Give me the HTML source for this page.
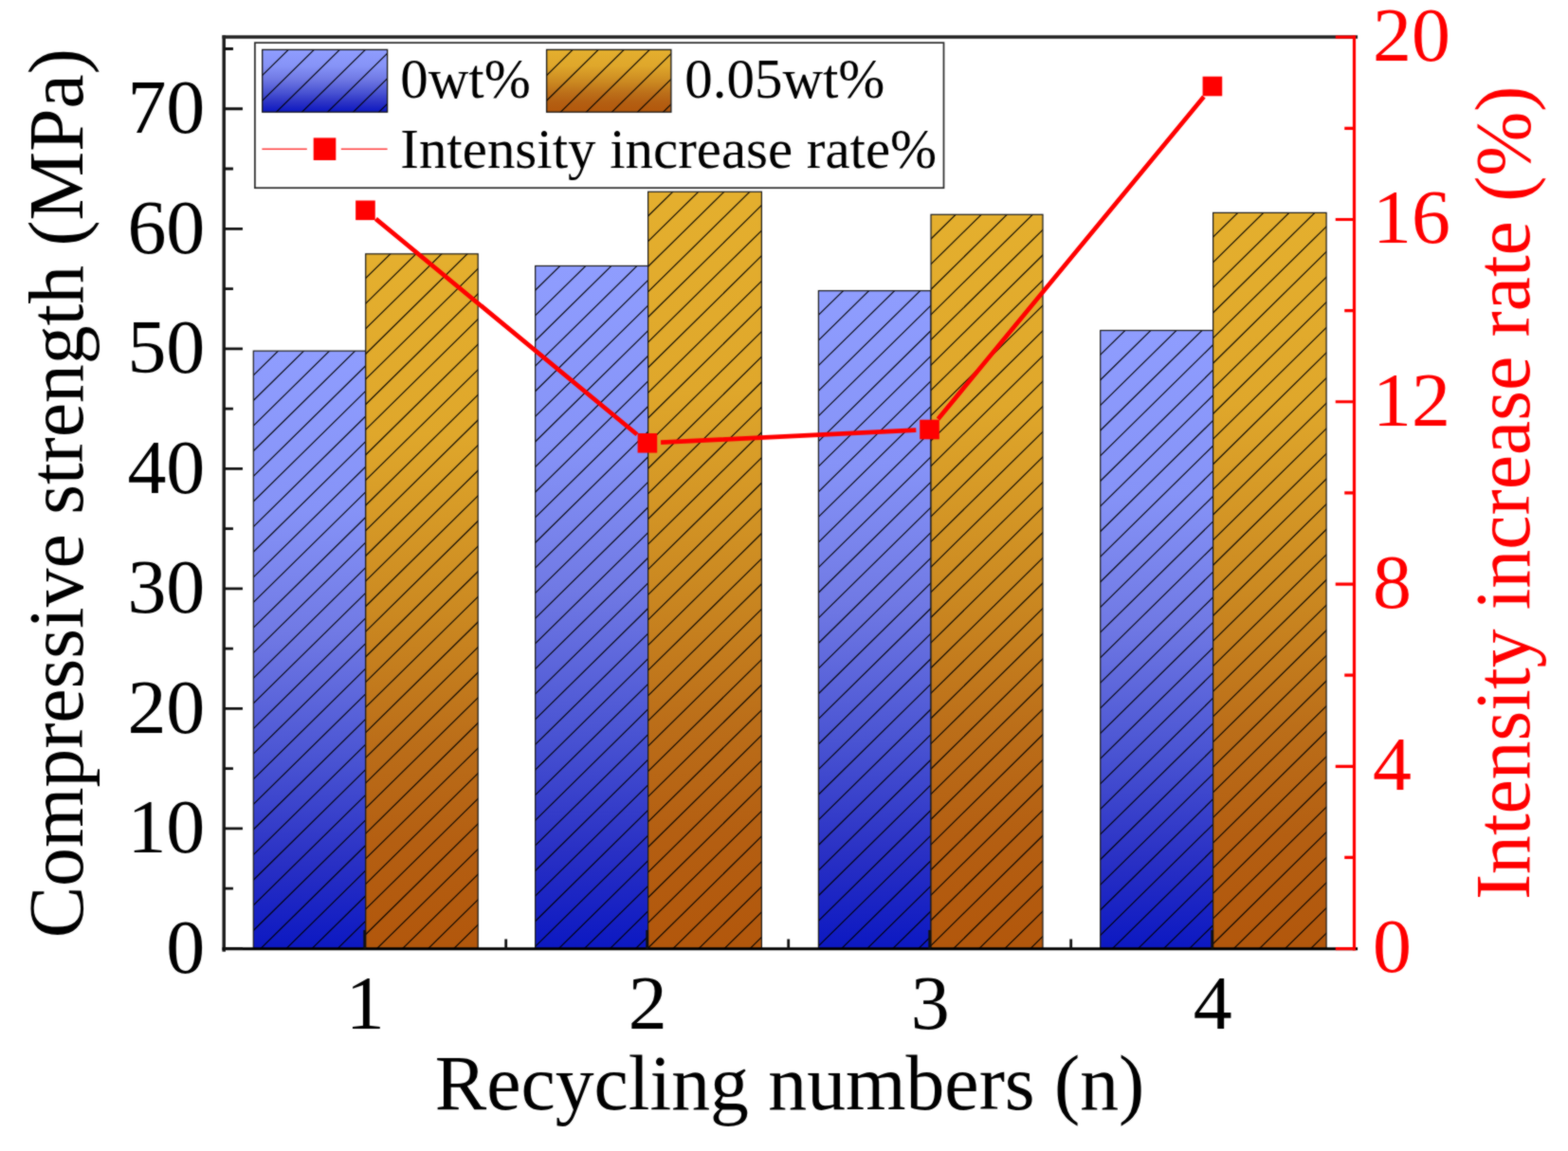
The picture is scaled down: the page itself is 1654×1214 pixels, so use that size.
<!DOCTYPE html>
<html lang="en"><head><meta charset="utf-8"><title>Compressive strength vs recycling numbers</title>
<style>
html,body{margin:0;padding:0;background:#fff;}
body{width:1654px;height:1214px;overflow:hidden;}
svg{display:block;}
text{font-family:"Liberation Serif",serif;}
</style></head><body>
<svg width="1654" height="1214" viewBox="0 0 1654 1214">
<defs>
<filter id="soft" filterUnits="userSpaceOnUse" x="0" y="0" width="1654" height="1214" color-interpolation-filters="sRGB"><feConvolveMatrix order="3" kernelMatrix="0.05 0.075 0.05 0.075 0.5 0.075 0.05 0.075 0.05" divisor="1" edgeMode="duplicate" preserveAlpha="true"/></filter>
<linearGradient id="gb" x1="0" y1="0" x2="0" y2="1"><stop offset="0" stop-color="#8f9dfe"/><stop offset="0.263" stop-color="#8693f7"/><stop offset="0.474" stop-color="#7079e4"/><stop offset="0.687" stop-color="#4953d2"/><stop offset="0.857" stop-color="#2930c4"/><stop offset="1" stop-color="#0c18c2"/></linearGradient>
<linearGradient id="gg" x1="0" y1="0" x2="0" y2="1"><stop offset="0" stop-color="#e4af2e"/><stop offset="0.26" stop-color="#dfa72b"/><stop offset="0.515" stop-color="#cb8921"/><stop offset="0.7" stop-color="#bb6e19"/><stop offset="0.845" stop-color="#b45f12"/><stop offset="1" stop-color="#b2570c"/></linearGradient>
</defs>
<g id="chart" filter="url(#soft)">
<rect x="0" y="0" width="1654" height="1214" fill="#fff"/>
<g id="bars">
<clipPath id="c1"><rect x="267.30" y="370.15" width="118.40" height="630.45"/></clipPath>
<rect x="267.30" y="370.15" width="118.40" height="630.45" fill="url(#gb)"/>
<path d="M264.30 398.78L296.41 367.20M264.30 425.40L323.46 367.20M264.30 452.02L350.51 367.20M264.30 478.64L377.56 367.20M264.30 505.26L404.61 367.20M264.30 531.88L431.66 367.20M264.30 558.50L458.71 367.20M264.30 585.12L485.76 367.20M264.30 611.74L512.81 367.20M264.30 638.36L539.86 367.20M264.30 664.98L566.91 367.20M264.30 691.60L593.96 367.20M264.30 718.22L621.01 367.20M264.30 744.84L648.06 367.20M264.30 771.46L675.11 367.20M264.30 798.08L702.16 367.20M264.30 824.70L729.21 367.20M264.30 851.32L756.26 367.20M264.30 877.94L783.31 367.20M264.30 904.56L810.36 367.20M264.30 931.18L837.41 367.20M264.30 957.80L864.46 367.20M264.30 984.42L891.51 367.20M264.30 1011.04L918.56 367.20M264.30 1037.66L945.61 367.20M264.30 1064.28L972.66 367.20M264.30 1090.90L999.71 367.20M264.30 1117.52L1026.76 367.20" stroke="#000" stroke-opacity="0.85" stroke-width="1.3" fill="none" clip-path="url(#c1)"/>
<rect x="267.30" y="370.15" width="118.40" height="630.45" fill="none" stroke="#1a1a1a" stroke-width="1.20"/>
<clipPath id="c2"><rect x="385.70" y="267.80" width="118.50" height="732.80"/></clipPath>
<rect x="385.70" y="267.80" width="118.50" height="732.80" fill="url(#gg)"/>
<path d="M382.70 296.43L414.81 264.85M382.70 323.05L441.86 264.84M382.70 349.67L468.91 264.84M382.70 376.29L495.96 264.84M382.70 402.91L523.01 264.84M382.70 429.53L550.06 264.84M382.70 456.15L577.11 264.84M382.70 482.77L604.16 264.84M382.70 509.39L631.21 264.84M382.70 536.01L658.26 264.84M382.70 562.63L685.31 264.84M382.70 589.25L712.36 264.84M382.70 615.87L739.41 264.84M382.70 642.49L766.46 264.84M382.70 669.11L793.51 264.84M382.70 695.73L820.56 264.84M382.70 722.35L847.61 264.84M382.70 748.97L874.66 264.84M382.70 775.59L901.71 264.84M382.70 802.21L928.76 264.84M382.70 828.83L955.81 264.84M382.70 855.45L982.86 264.84M382.70 882.07L1009.91 264.84M382.70 908.69L1036.96 264.84M382.70 935.31L1064.01 264.84M382.70 961.93L1091.06 264.84M382.70 988.55L1118.11 264.84M382.70 1015.17L1145.16 264.84M382.70 1041.79L1172.21 264.84M382.70 1068.41L1199.26 264.84M382.70 1095.03L1226.31 264.84M382.70 1121.65L1253.36 264.84" stroke="#000" stroke-opacity="0.85" stroke-width="1.3" fill="none" clip-path="url(#c2)"/>
<rect x="385.70" y="267.80" width="118.50" height="732.80" fill="none" stroke="#1a1a1a" stroke-width="1.20"/>
<clipPath id="c3"><rect x="564.65" y="280.45" width="118.95" height="720.15"/></clipPath>
<rect x="564.65" y="280.45" width="118.95" height="720.15" fill="url(#gb)"/>
<path d="M561.65 309.08L593.76 277.50M561.65 335.70L620.81 277.50M561.65 362.32L647.86 277.50M561.65 388.94L674.91 277.50M561.65 415.56L701.96 277.50M561.65 442.18L729.01 277.50M561.65 468.80L756.06 277.50M561.65 495.42L783.11 277.50M561.65 522.04L810.16 277.50M561.65 548.66L837.21 277.50M561.65 575.28L864.26 277.50M561.65 601.90L891.31 277.50M561.65 628.52L918.36 277.50M561.65 655.14L945.41 277.50M561.65 681.76L972.46 277.50M561.65 708.38L999.51 277.50M561.65 735.00L1026.56 277.50M561.65 761.62L1053.61 277.50M561.65 788.24L1080.66 277.50M561.65 814.86L1107.71 277.50M561.65 841.48L1134.76 277.50M561.65 868.10L1161.81 277.50M561.65 894.72L1188.86 277.50M561.65 921.34L1215.91 277.50M561.65 947.96L1242.96 277.50M561.65 974.58L1270.01 277.50M561.65 1001.20L1297.06 277.50M561.65 1027.82L1324.11 277.50M561.65 1054.44L1351.16 277.50M561.65 1081.06L1378.21 277.50M561.65 1107.68L1405.26 277.50" stroke="#000" stroke-opacity="0.85" stroke-width="1.3" fill="none" clip-path="url(#c3)"/>
<rect x="564.65" y="280.45" width="118.95" height="720.15" fill="none" stroke="#1a1a1a" stroke-width="1.20"/>
<clipPath id="c4"><rect x="683.60" y="202.26" width="119.80" height="798.34"/></clipPath>
<rect x="683.60" y="202.26" width="119.80" height="798.34" fill="url(#gg)"/>
<path d="M680.60 230.89L712.71 199.31M680.60 257.51L739.76 199.31M680.60 284.13L766.81 199.31M680.60 310.75L793.86 199.31M680.60 337.37L820.91 199.31M680.60 363.99L847.96 199.31M680.60 390.61L875.01 199.31M680.60 417.23L902.06 199.31M680.60 443.85L929.11 199.31M680.60 470.47L956.16 199.31M680.60 497.09L983.21 199.31M680.60 523.71L1010.26 199.31M680.60 550.33L1037.31 199.31M680.60 576.95L1064.36 199.31M680.60 603.57L1091.41 199.31M680.60 630.19L1118.46 199.31M680.60 656.81L1145.51 199.31M680.60 683.43L1172.56 199.31M680.60 710.05L1199.61 199.31M680.60 736.67L1226.66 199.31M680.60 763.29L1253.71 199.31M680.60 789.91L1280.76 199.31M680.60 816.53L1307.81 199.31M680.60 843.15L1334.86 199.31M680.60 869.77L1361.91 199.31M680.60 896.39L1388.96 199.31M680.60 923.01L1416.01 199.31M680.60 949.63L1443.06 199.31M680.60 976.25L1470.11 199.31M680.60 1002.87L1497.16 199.31M680.60 1029.49L1524.21 199.31M680.60 1056.11L1551.26 199.31M680.60 1082.73L1578.31 199.31M680.60 1109.35L1605.36 199.31" stroke="#000" stroke-opacity="0.85" stroke-width="1.3" fill="none" clip-path="url(#c4)"/>
<rect x="683.60" y="202.26" width="119.80" height="798.34" fill="none" stroke="#1a1a1a" stroke-width="1.20"/>
<clipPath id="c5"><rect x="863.40" y="306.64" width="118.60" height="693.96"/></clipPath>
<rect x="863.40" y="306.64" width="118.60" height="693.96" fill="url(#gb)"/>
<path d="M860.40 335.27L892.51 303.69M860.40 361.89L919.56 303.69M860.40 388.51L946.61 303.69M860.40 415.13L973.66 303.69M860.40 441.75L1000.71 303.69M860.40 468.37L1027.76 303.69M860.40 494.99L1054.81 303.69M860.40 521.61L1081.86 303.69M860.40 548.23L1108.91 303.69M860.40 574.85L1135.96 303.69M860.40 601.47L1163.01 303.69M860.40 628.09L1190.06 303.69M860.40 654.71L1217.11 303.69M860.40 681.33L1244.16 303.69M860.40 707.95L1271.21 303.69M860.40 734.57L1298.26 303.69M860.40 761.19L1325.31 303.69M860.40 787.81L1352.36 303.69M860.40 814.43L1379.41 303.69M860.40 841.05L1406.46 303.69M860.40 867.67L1433.51 303.69M860.40 894.29L1460.56 303.69M860.40 920.91L1487.61 303.69M860.40 947.53L1514.66 303.69M860.40 974.15L1541.71 303.69M860.40 1000.77L1568.76 303.69M860.40 1027.39L1595.81 303.69M860.40 1054.01L1622.86 303.69M860.40 1080.63L1649.91 303.69M860.40 1107.25L1676.96 303.69" stroke="#000" stroke-opacity="0.85" stroke-width="1.3" fill="none" clip-path="url(#c5)"/>
<rect x="863.40" y="306.64" width="118.60" height="693.96" fill="none" stroke="#1a1a1a" stroke-width="1.20"/>
<clipPath id="c6"><rect x="982.00" y="226.30" width="118.00" height="774.30"/></clipPath>
<rect x="982.00" y="226.30" width="118.00" height="774.30" fill="url(#gg)"/>
<path d="M979.00 254.93L1011.11 223.35M979.00 281.55L1038.16 223.35M979.00 308.17L1065.21 223.35M979.00 334.79L1092.26 223.35M979.00 361.41L1119.31 223.35M979.00 388.03L1146.36 223.35M979.00 414.65L1173.41 223.35M979.00 441.27L1200.46 223.35M979.00 467.89L1227.51 223.35M979.00 494.51L1254.56 223.35M979.00 521.13L1281.61 223.35M979.00 547.75L1308.66 223.35M979.00 574.37L1335.71 223.35M979.00 600.99L1362.76 223.35M979.00 627.61L1389.81 223.35M979.00 654.23L1416.86 223.35M979.00 680.85L1443.91 223.35M979.00 707.47L1470.96 223.35M979.00 734.09L1498.01 223.35M979.00 760.71L1525.06 223.35M979.00 787.33L1552.11 223.35M979.00 813.95L1579.16 223.35M979.00 840.57L1606.21 223.35M979.00 867.19L1633.26 223.35M979.00 893.81L1660.31 223.35M979.00 920.43L1687.36 223.35M979.00 947.05L1714.41 223.35M979.00 973.67L1741.46 223.35M979.00 1000.29L1768.51 223.35M979.00 1026.91L1795.56 223.35M979.00 1053.53L1822.61 223.35M979.00 1080.15L1849.66 223.35M979.00 1106.77L1876.71 223.35" stroke="#000" stroke-opacity="0.85" stroke-width="1.3" fill="none" clip-path="url(#c6)"/>
<rect x="982.00" y="226.30" width="118.00" height="774.30" fill="none" stroke="#1a1a1a" stroke-width="1.20"/>
<clipPath id="c7"><rect x="1160.70" y="348.52" width="118.90" height="652.08"/></clipPath>
<rect x="1160.70" y="348.52" width="118.90" height="652.08" fill="url(#gb)"/>
<path d="M1157.70 377.15L1189.81 345.57M1157.70 403.77L1216.86 345.56M1157.70 430.39L1243.91 345.56M1157.70 457.01L1270.96 345.56M1157.70 483.63L1298.01 345.56M1157.70 510.25L1325.06 345.56M1157.70 536.87L1352.11 345.56M1157.70 563.49L1379.16 345.56M1157.70 590.11L1406.21 345.56M1157.70 616.73L1433.26 345.56M1157.70 643.35L1460.31 345.56M1157.70 669.97L1487.36 345.56M1157.70 696.59L1514.41 345.56M1157.70 723.21L1541.46 345.56M1157.70 749.83L1568.51 345.56M1157.70 776.45L1595.56 345.56M1157.70 803.07L1622.61 345.56M1157.70 829.69L1649.66 345.56M1157.70 856.31L1676.71 345.56M1157.70 882.93L1703.76 345.56M1157.70 909.55L1730.81 345.56M1157.70 936.17L1757.86 345.56M1157.70 962.79L1784.91 345.56M1157.70 989.41L1811.96 345.56M1157.70 1016.03L1839.01 345.56M1157.70 1042.65L1866.06 345.56M1157.70 1069.27L1893.11 345.56M1157.70 1095.89L1920.16 345.56M1157.70 1122.51L1947.21 345.56" stroke="#000" stroke-opacity="0.85" stroke-width="1.3" fill="none" clip-path="url(#c7)"/>
<rect x="1160.70" y="348.52" width="118.90" height="652.08" fill="none" stroke="#1a1a1a" stroke-width="1.20"/>
<clipPath id="c8"><rect x="1279.60" y="224.40" width="119.50" height="776.20"/></clipPath>
<rect x="1279.60" y="224.40" width="119.50" height="776.20" fill="url(#gg)"/>
<path d="M1276.60 253.03L1308.71 221.45M1276.60 279.65L1335.76 221.45M1276.60 306.27L1362.81 221.45M1276.60 332.89L1389.86 221.45M1276.60 359.51L1416.91 221.45M1276.60 386.13L1443.96 221.45M1276.60 412.75L1471.01 221.45M1276.60 439.37L1498.06 221.45M1276.60 465.99L1525.11 221.45M1276.60 492.61L1552.16 221.45M1276.60 519.23L1579.21 221.45M1276.60 545.85L1606.26 221.45M1276.60 572.47L1633.31 221.45M1276.60 599.09L1660.36 221.45M1276.60 625.71L1687.41 221.45M1276.60 652.33L1714.46 221.45M1276.60 678.95L1741.51 221.45M1276.60 705.57L1768.56 221.45M1276.60 732.19L1795.61 221.45M1276.60 758.81L1822.66 221.45M1276.60 785.43L1849.71 221.45M1276.60 812.05L1876.76 221.45M1276.60 838.67L1903.81 221.45M1276.60 865.29L1930.86 221.45M1276.60 891.91L1957.91 221.45M1276.60 918.53L1984.96 221.45M1276.60 945.15L2012.01 221.45M1276.60 971.77L2039.06 221.45M1276.60 998.39L2066.11 221.45M1276.60 1025.01L2093.16 221.45M1276.60 1051.63L2120.21 221.45M1276.60 1078.25L2147.26 221.45M1276.60 1104.87L2174.31 221.45" stroke="#000" stroke-opacity="0.85" stroke-width="1.3" fill="none" clip-path="url(#c8)"/>
<rect x="1279.60" y="224.40" width="119.50" height="776.20" fill="none" stroke="#1a1a1a" stroke-width="1.20"/>
</g>
<g id="axes" stroke="#111" stroke-width="3.50" fill="none" stroke-linecap="butt">
<path d="M236.20 37.25V1003.75" stroke="#1c1c1c"/>
<path d="M234.45 1000.70H1432.10" stroke="#000" stroke-width="3.1"/>
<path d="M234.45 39.00H1432.10" stroke="#222"/>
<path d="M236.20 1000.40h19.75M236.20 937.14h9.75M236.20 873.88h19.75M236.20 810.62h9.75M236.20 747.36h19.75M236.20 684.10h9.75M236.20 620.84h19.75M236.20 557.58h9.75M236.20 494.32h19.75M236.20 431.06h9.75M236.20 367.80h19.75M236.20 304.54h9.75M236.20 241.28h19.75M236.20 178.02h9.75M236.20 114.76h19.75M236.20 51.50h9.75" stroke-width="2.8"/>
<path d="M384.70 1000.80v-19.75M682.70 1000.80v-19.75M980.70 1000.80v-19.75M1278.70 1000.80v-19.75M533.70 1000.80v-10.25M831.70 1000.80v-10.25M1129.70 1000.80v-10.25" stroke-width="2.8"/>
</g>
<g id="raxis" stroke="#f00" stroke-width="3.20" fill="none">
<path d="M1428.50 37.25V1002.55"/>
<path d="M1428.50 1000.60h-19.75M1428.50 904.46h-10.25M1428.50 808.32h-19.75M1428.50 712.18h-10.25M1428.50 616.04h-19.75M1428.50 519.90h-10.25M1428.50 423.76h-19.75M1428.50 327.62h-10.25M1428.50 231.48h-19.75M1428.50 135.34h-10.25M1428.50 39.20h-19.75"/>
</g>
<g id="rate">
<path d="M396.40 230.84L671.95 458.26M697.08 466.62L966.32 453.68M989.53 442.04L1269.87 101.96" stroke="#f00" stroke-width="4.7" fill="none"/>
<rect x="375.15" y="211.50" width="20.60" height="20.60" fill="#f00"/>
<rect x="672.60" y="457.00" width="20.60" height="20.60" fill="#f00"/>
<rect x="970.20" y="442.70" width="20.60" height="20.60" fill="#f00"/>
<rect x="1268.60" y="80.70" width="20.60" height="20.60" fill="#f00"/>
</g>
<g id="ylab" font-size="80.8" fill="#000" text-anchor="end">
<text transform="translate(216.30 1025.80) scale(1.014 1)">0</text>
<text transform="translate(216.30 899.28) scale(1.014 1)">10</text>
<text transform="translate(216.30 772.76) scale(1.014 1)">20</text>
<text transform="translate(216.30 646.24) scale(1.014 1)">30</text>
<text transform="translate(216.30 519.72) scale(1.014 1)">40</text>
<text transform="translate(216.30 393.20) scale(1.014 1)">50</text>
<text transform="translate(216.30 266.68) scale(1.014 1)">60</text>
<text transform="translate(216.30 140.16) scale(1.014 1)">70</text>
</g>
<g id="rlab" font-size="80.8" fill="#f00" text-anchor="start">
<text transform="translate(1448.00 1025.40) scale(1.014 1)">0</text>
<text transform="translate(1448.00 833.12) scale(1.014 1)">4</text>
<text transform="translate(1448.00 640.84) scale(1.014 1)">8</text>
<text transform="translate(1448.00 448.56) scale(1.014 1)">12</text>
<text transform="translate(1448.00 256.28) scale(1.014 1)">16</text>
<text transform="translate(1448.00 64.00) scale(1.014 1)">20</text>
</g>
<g id="xlab" font-size="80.8" fill="#000" text-anchor="middle">
<text transform="translate(385.20 1084.60) scale(1.014 1)">1</text>
<text transform="translate(683.20 1084.60) scale(1.014 1)">2</text>
<text transform="translate(981.20 1084.60) scale(1.014 1)">3</text>
<text transform="translate(1279.20 1084.60) scale(1.014 1)">4</text>
</g>
<text id="xt" transform="translate(833.00 1170.20) scale(1 1)" font-size="81.7" text-anchor="middle" fill="#000">Recycling numbers (n)</text>
<text id="yt" transform="translate(86.70 520.20) rotate(-90)" font-size="81.6" text-anchor="middle" fill="#000">Compressive strength (MPa)</text>
<text id="rt" transform="translate(1613.00 519.80) rotate(-90)" font-size="81.6" text-anchor="middle" fill="#f00">Intensity increase rate (%)</text>
<g id="legend">
<rect x="268.9" y="45.1" width="726.6" height="153.1" fill="#fff" stroke="#2a2a2a" stroke-width="1.7"/>
<clipPath id="c9"><rect x="276.70" y="52.40" width="131.90" height="65.80"/></clipPath>
<rect x="276.70" y="52.40" width="131.90" height="65.80" fill="url(#gb)"/>
<path d="M273.70 82.47L307.25 49.45M273.70 109.09L334.30 49.45M273.70 135.71L361.35 49.45M273.70 162.33L388.40 49.45M273.70 188.95L415.45 49.45M273.70 215.57L442.50 49.45M273.70 242.19L469.55 49.45" stroke="#000" stroke-opacity="0.85" stroke-width="1.3" fill="none" clip-path="url(#c9)"/>
<rect x="276.70" y="52.40" width="131.90" height="65.80" fill="none" stroke="#1a1a1a" stroke-width="1.30"/>
<clipPath id="c10"><rect x="576.60" y="52.40" width="131.30" height="65.80"/></clipPath>
<rect x="576.60" y="52.40" width="131.30" height="65.80" fill="url(#gg)"/>
<path d="M573.60 82.47L607.15 49.45M573.60 109.09L634.20 49.45M573.60 135.71L661.25 49.45M573.60 162.33L688.30 49.45M573.60 188.95L715.35 49.45M573.60 215.57L742.40 49.45M573.60 242.19L769.45 49.45" stroke="#000" stroke-opacity="0.85" stroke-width="1.3" fill="none" clip-path="url(#c10)"/>
<rect x="576.60" y="52.40" width="131.30" height="65.80" fill="none" stroke="#1a1a1a" stroke-width="1.30"/>
<path d="M276.4 157.3H323.8M359.8 157.3H408.6" stroke="#ff3a3a" stroke-width="1.5" fill="none"/>
<rect x="330.7" y="145.4" width="23.6" height="23.6" fill="#f00"/>
<g font-size="59.7" fill="#000">
<text transform="translate(422.3 102.9) scale(0.987 1)">0wt%</text>
<text transform="translate(722.3 102.9) scale(0.987 1)">0.05wt%</text>
<text transform="translate(422.3 176.6) scale(0.987 1)">Intensity increase rate%</text>
</g></g>
</g>
</svg>
</body></html>
